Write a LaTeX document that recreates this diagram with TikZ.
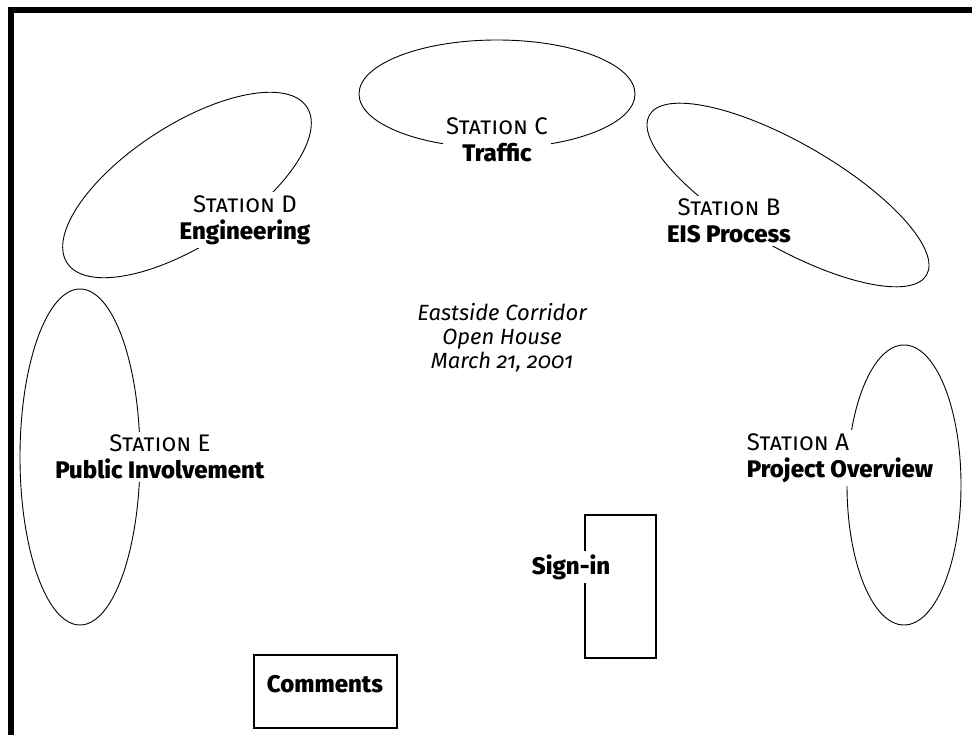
\documentclass[tikz,border=0pt]{standalone}
\usepackage{fontspec}
\setmainfont[Numbers=OldStyle, BoldFont={Fira Sans ExtraBold}]{Fira Sans}
\tikzset{
  ring/.style={draw, line width=0.9pt},
  booth/.style={draw, line width=1.1pt, inner sep=0pt},
  station/.style={fill=white, inner sep=3pt, align=center,
    font=\fontsize{24}{27}\selectfont},
  tag/.style={fill=white, inner sep=3pt, font=\bfseries\fontsize{24}{27}\selectfont},
}

\begin{document}
\begin{tikzpicture}[x=1pt, y=-1pt]
    \useasboundingbox (0,0) rectangle (972,735);
    % frame
    \draw[line width=6pt] (10.5,735) |- (972,10);
    % station areas
    \draw[ring] (497,94) ellipse (138 and 54);
    \draw[ring, rotate around={33:(187,185)}] (187,185) ellipse (143 and 60);
    \draw[ring, rotate around={-30:(788,195)}] (788,195) ellipse (160 and 52);
    \draw[ring] (80,457) ellipse (60 and 168);
    \draw[ring] (904,485) ellipse (57 and 140);
    % tables
    \node[booth, minimum width=71pt, minimum height=143pt] (desk) at (620.5,586.5) {};
    \node[booth, minimum width=143pt, minimum height=73pt] (box) at (325.5,691.5) {};
    % labels
    \node[station] (stC) at (497,140) {\textsc{Station C}\\\textbf{Traffic}};
    \node[station] (stD) at (245,220) {\textsc{Station D}\\\textbf{Engineering}};
    \node[station] (stB) at (729,221) {\textsc{Station B}\\\textbf{EIS Process}};
    \node[station] (stE) at (160,457) {\textsc{Station E}\\\textbf{Public Involvement}};
    \node[station, align=left] (stA) at (840,458) {\textsc{Station A}\\\textbf{Project Overview}};
    \node[font=\itshape\fontsize{22}{24}\selectfont, align=center] (title) at (502,338)
        {Eastside Corridor\\Open House\\March 21, 2001};
    \node[tag] (signin) at (571,567) {Sign-in};
    \node[tag, fill=none] (comments) at (325,684) {Comments};
\end{tikzpicture}
\end{document}
